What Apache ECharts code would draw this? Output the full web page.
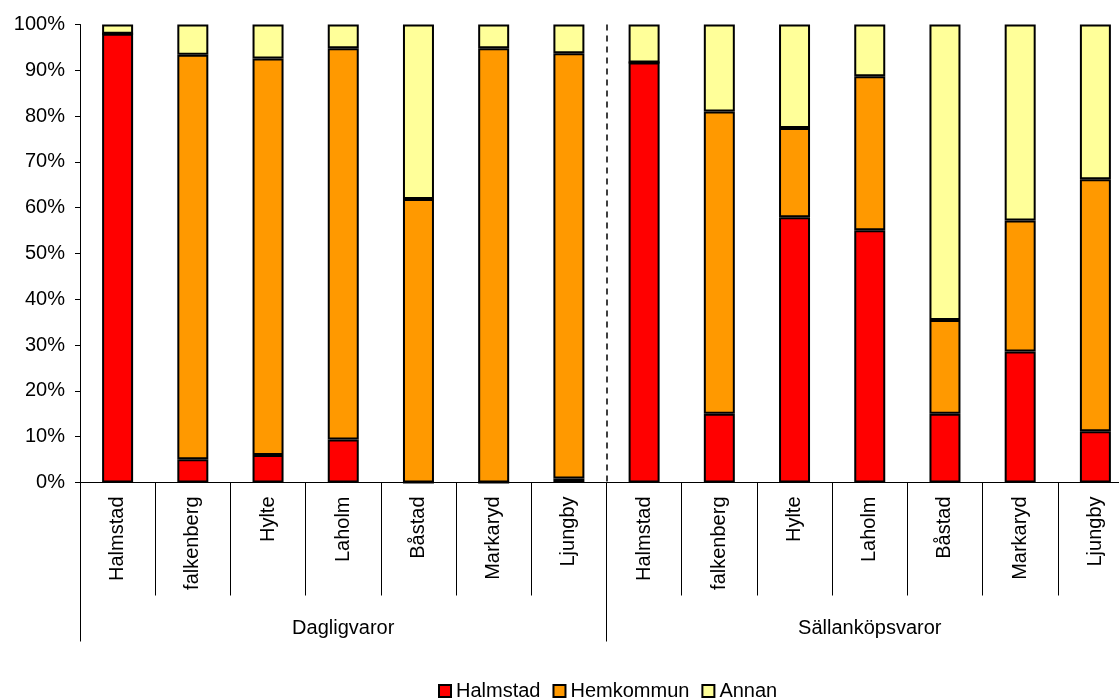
<!DOCTYPE html>
<html>
<head>
<meta charset="utf-8">
<script src="https://cdn.jsdelivr.net/npm/echarts@6/dist/echarts.min.js"></script>
<style>
html,body{margin:0;padding:0;background:#fff;overflow:hidden;width:1119px;height:699px;}
#chart{width:1150px;height:699px;}
</style>
</head>
<body>
<div id="chart"></div>
<script>
var categories = ['Halmstad','falkenberg','Hylte','Laholm','Båstad','Markaryd','Ljungby',
                  'Halmstad','falkenberg','Hylte','Laholm','Båstad','Markaryd','Ljungby'];
var groups = ['Dagligvaror','Sällanköpsvaror'];
var seriesNames = ['Halmstad','Hemkommun','Annan'];
var halmstad  = [98.0, 5.1, 6.0, 9.4, 0, 0, 0.9,   91.7, 15.0, 57.9, 55.1, 15.0, 28.6, 11.2];
var hemkommun = [0, 88.3, 86.6, 85.4, 61.9, 94.8, 92.8,   0, 66.0, 19.5, 33.6, 20.5, 28.6, 55.0];
var annan     = [2.0, 6.6, 7.4, 5.2, 38.1, 5.2, 6.3,   8.3, 19.0, 22.6, 11.3, 64.5, 42.8, 33.8];
var yTicks = [0,10,20,30,40,50,60,70,80,90,100];

var FONT = 'Liberation Sans, Arial, sans-serif';
var colors = ['#FF0000','#FF9900','#FFFF99'];
var values = [halmstad, hemkommun, annan];

var chart = echarts.init(document.getElementById('chart'));
chart.setOption({
  animation: false,
  textStyle: {fontFamily: FONT, color: '#000'},
  grid: {left: 80, top: 24.5, width: 1053, height: 458, containLabel: false},
  legend: {
    data: seriesNames,
    left: 433, top: 676,
    itemWidth: 12, itemHeight: 12, itemGap: 12,
    textStyle: {fontFamily: FONT, fontSize: 20, color: '#000'},
    icon: 'rect'
  },
  xAxis: [{
    type: 'category', data: categories, position: 'bottom',
    axisLine: {show: true, lineStyle: {color: '#000', width: 1}},
    axisTick: {show: true, length: 113, lineStyle: {color: '#000', width: 1}},
    axisLabel: {rotate: 90, margin: 14, fontFamily: FONT, fontSize: 20, color: '#000', interval: 0},
    splitLine: {show: false}
  }, {
    type: 'category', data: groups, position: 'bottom',
    axisLine: {show: false},
    axisTick: {show: true, length: 159, lineStyle: {color: '#000', width: 1}},
    axisLabel: {margin: 136, fontFamily: FONT, fontSize: 20, color: '#000', interval: 0},
    splitLine: {show: true, showMinLine: false, showMaxLine: false,
      lineStyle: {color: '#000', width: 1.5, type: [6, 5]}}
  }],
  yAxis: {
    type: 'value', min: 0, max: 100, interval: 10,
    axisLine: {show: true, lineStyle: {color: '#000', width: 1}},
    axisTick: {show: true, length: 5, lineStyle: {color: '#000'}},
    axisLabel: {margin: 15, fontFamily: FONT, fontSize: 20, color: '#000',
      formatter: function(v){ return yTicks.indexOf(v) >= 0 ? v + '%' : ''; }},
    splitLine: {show: false}
  },
  series: seriesNames.map(function(n, i){
    return {
      name: n, type: 'bar', stack: 'total', xAxisIndex: 0,
      barWidth: 31,
      data: values[i],
      itemStyle: {color: colors[i], borderColor: '#000', borderWidth: 2}
    };
  })
});
</script>
</body>
</html>
